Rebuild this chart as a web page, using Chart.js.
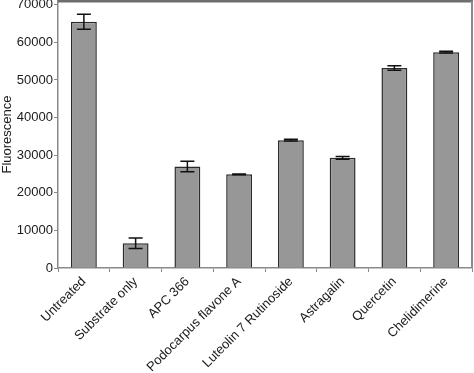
<!DOCTYPE html>
<html>
<head>
<meta charset="utf-8">
<script src="https://cdn.jsdelivr.net/npm/chart.js@4"></script>
<style>
  html, body { margin: 0; padding: 0; background: #fff; }
  #wrap { width: 474px; height: 373px; }
</style>
</head>
<body>
<div id="wrap"><canvas id="chart"></canvas></div>
<script>
// values
const labels = ['Untreated', 'Substrate only', 'APC 366', 'Podocarpus flavone A',
  'Luteolin 7 Rutinoside', 'Astragalin', 'Quercetin', 'Chelidimerine'];
const fluorescence = [65500, 6600, 27000, 24900, 34000, 29300, 53200, 57400];
const errors = [2000, 1400, 1400, 120, 250, 350, 600, 250];
const yTicks = [0, 10000, 20000, 30000, 40000, 50000, 60000, 70000];

const FONT = 'Liberation Sans, Arial, sans-serif';
const AXIS_GREY = '#8a8a8a';

// error bars, positioned through the y scale
const errorBars = {
  id: 'errorBars',
  afterDatasetsDraw(chart) {
    const { ctx, scales: { y } } = chart;
    const meta = chart.getDatasetMeta(0);
    ctx.save();
    ctx.strokeStyle = '#111';
    ctx.lineWidth = 1.5;
    meta.data.forEach((bar, i) => {
      const hi = y.getPixelForValue(fluorescence[i] + errors[i]);
      const lo = y.getPixelForValue(fluorescence[i] - errors[i]);
      const half = 7;
      ctx.beginPath();
      ctx.moveTo(bar.x, hi); ctx.lineTo(bar.x, lo);
      ctx.moveTo(bar.x - half, hi); ctx.lineTo(bar.x + half, hi);
      ctx.moveTo(bar.x - half, lo); ctx.lineTo(bar.x + half, lo);
      ctx.stroke();
    });
    ctx.restore();
  }
};

// top and right sides of the frame
const frame = {
  id: 'frame',
  afterDraw(chart) {
    const { ctx, chartArea: a } = chart;
    ctx.save();
    ctx.strokeStyle = '#6e6e6e';
    ctx.lineWidth = 3;
    ctx.beginPath();
    ctx.moveTo(a.left, a.top); ctx.lineTo(a.right + 1, a.top);
    ctx.stroke();
    ctx.strokeStyle = AXIS_GREY;
    ctx.lineWidth = 2;
    ctx.beginPath();
    ctx.moveTo(a.right, a.top); ctx.lineTo(a.right, a.bottom);
    ctx.stroke();
    ctx.restore();
  }
};

new Chart(document.getElementById('chart'), {
  type: 'bar',
  data: {
    labels,
    datasets: [{
      data: fluorescence,
      backgroundColor: '#979797',
      borderColor: '#2b2b2b',
      borderWidth: 1.5,
      barPercentage: 0.5,
      categoryPercentage: 1,
    }],
  },
  options: {
    responsive: true, maintainAspectRatio: false, animation: false,
    layout: { padding: { top: 1, right: 2, left: 0, bottom: 0 } },
    plugins: { legend: { display: false }, tooltip: { enabled: false } },
    scales: {
      x: {
        grid: { display: true, drawOnChartArea: false, tickLength: 4, tickColor: AXIS_GREY, lineWidth: 1 },
        border: { color: AXIS_GREY, width: 1.5 },
        ticks: { color: '#1a1a1a', minRotation: 45, maxRotation: 45, padding: 2, font: { family: FONT, size: 13 } },
        afterFit: s => { s.height = 105; },
      },
      y: {
        min: 0, max: 71000,
        grid: { display: true, drawOnChartArea: false, tickLength: 4, tickColor: AXIS_GREY, lineWidth: 1 },
        border: { color: AXIS_GREY, width: 1.5 },
        ticks: { stepSize: 10000, color: '#1a1a1a', padding: 1, font: { family: FONT, size: 13 }, callback: v => String(v) },
        afterBuildTicks: s => { s.ticks = yTicks.map(v => ({ value: v })); },
        title: { display: true, text: 'Fluorescence', color: '#1a1a1a', padding: { top: 0, bottom: 0 }, font: { family: FONT, size: 13 } },
        afterFit: s => { s.width = 58; s.paddingTop = 0; s.paddingBottom = 0; },
      },
    },
  },
  plugins: [errorBars, frame],
});
</script>
</body>
</html>
